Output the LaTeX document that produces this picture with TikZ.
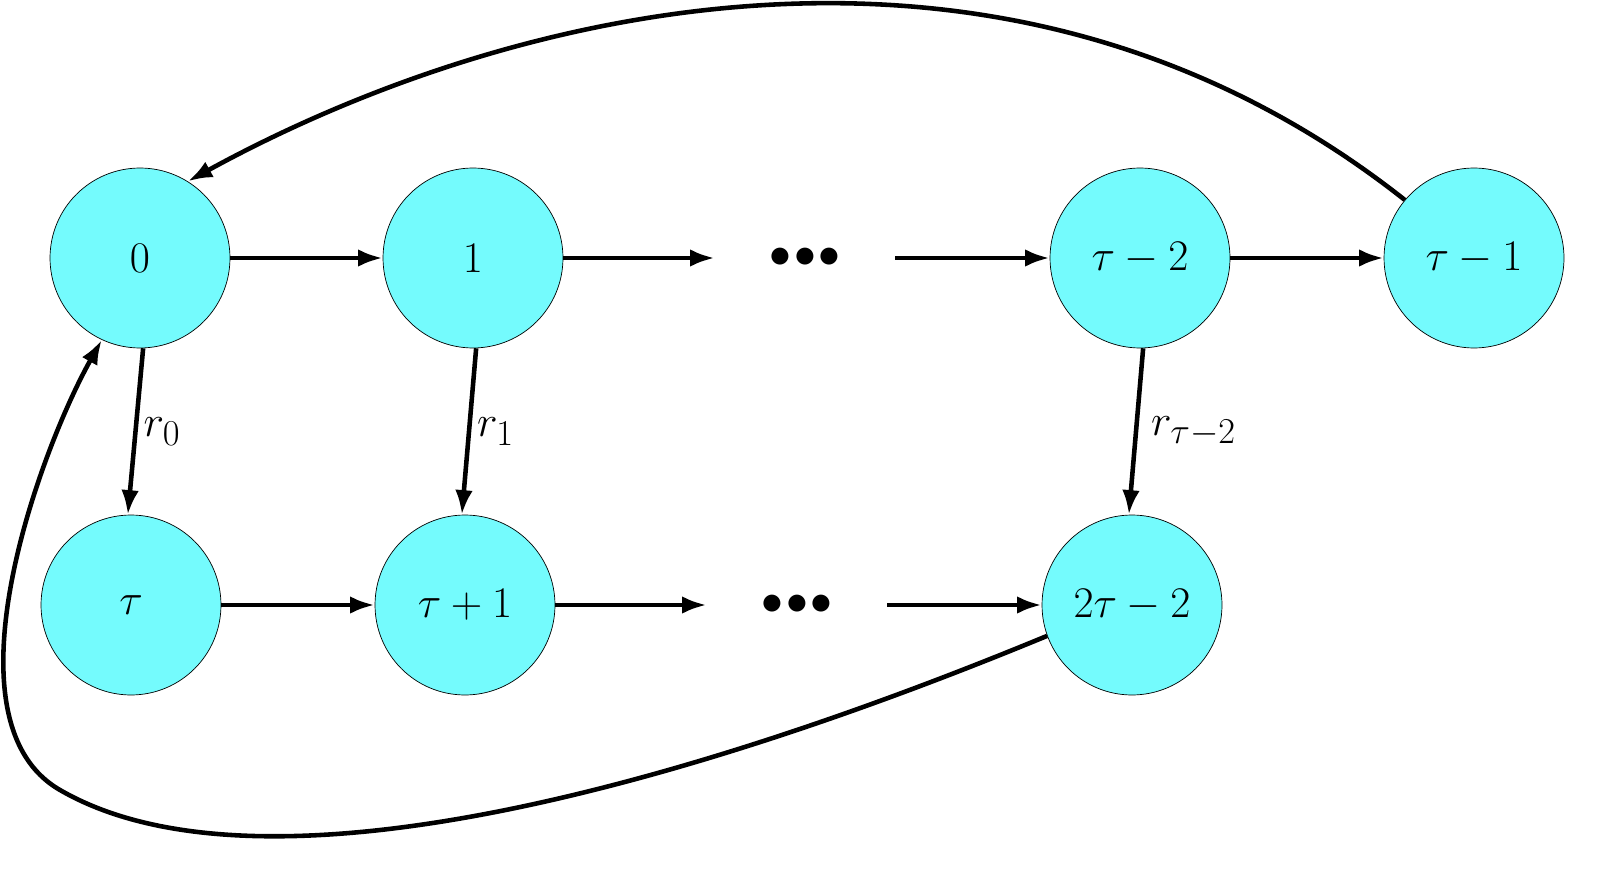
\documentclass[tikz,border=0pt]{standalone}
\usetikzlibrary{arrows.meta}
\definecolor{statefill}{RGB}{116,251,253}
\begin{document}
\begin{tikzpicture}[x=0.02cm,y=-0.02cm,
    state/.style={circle,draw,fill=statefill,minimum size=3.6cm,inner sep=0pt,font=\fontsize{34}{40}\selectfont},
    dots/.style={inner sep=0pt,minimum width=3.6cm,font=\fontsize{38}{40}\selectfont},
    link/.style={line width=2.6pt,-{Latex[length=14pt,width=10pt]}},
    lbl/.style={font=\fontsize{32}{36}\selectfont}]
    \useasboundingbox (0,0) rectangle (1598,878);

    % top row
    \node [state] (zero) at (140,258) {$0$};
    \node [state] (one) at (473,258) {$1$};
    \node [dots] (dtop) at (805,258) {$\bullet\!\bullet\!\bullet$};
    \node [state] (tm2) at (1140,258) {$\tau-2$};
    \node [state] (tm1) at (1474,258) {$\tau-1$};

    % bottom row
    \node [state] (tau) at (131,605) {$\tau$};
    \node [state] (tp1) at (465,605) {$\tau+1$};
    \node [dots] (dbot) at (797,605) {$\bullet\!\bullet\!\bullet$};
    \node [state] (ttm2) at (1132,605) {$2\tau-2$};

    \draw [link] (zero) -- (one);
    \draw [link] (one) -- (dtop);
    \draw [link] (dtop) -- (tm2);
    \draw [link] (tm2) -- (tm1);
    \draw [link] (tau) -- (tp1);
    \draw [link] (tp1) -- (dbot);
    \draw [link] (dbot) -- (ttm2);

    \draw [link] (zero.-88) -- (tau.92) node [lbl,midway,right] {$r_0$};
    \draw [link] (one.-88) -- (tp1.92) node [lbl,midway,right] {$r_1$};
    \draw [link] (tm2.-88) -- (ttm2.92) node [lbl,midway,right,xshift=4pt] {$r_{\tau-2}$};

    % feedback loops
    \draw [link] (tm1.140) .. controls (1000,-120) and (500,10) .. (zero.58);
    \draw [link] (ttm2.200) .. controls (650,800) and (250,900) .. (60,790)
        .. controls (-60,721) and (40,450) .. (zero.-115);
\end{tikzpicture}
\end{document}
